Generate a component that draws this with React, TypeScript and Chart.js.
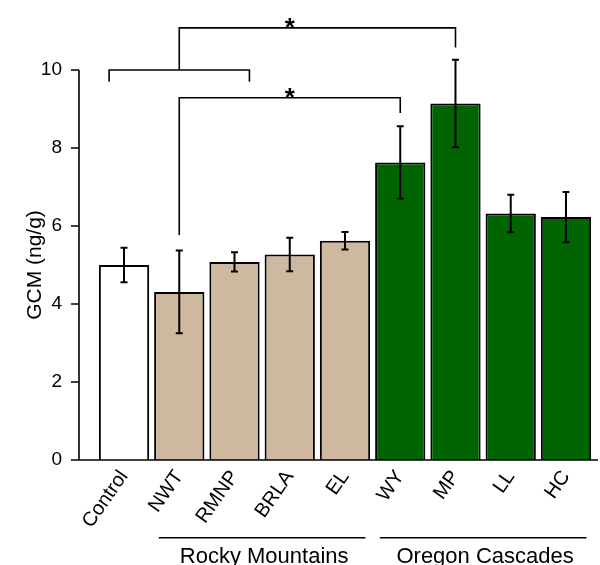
import React, { useEffect, useRef } from "react";
import { Chart, registerables } from "chart.js";

Chart.register(...registerables);

// ---------- data ----------
const categories = ["Control", "NWT", "RMNP", "BRLA", "EL", "WY", "MP", "LL", "HC"];
const means = [5.0, 4.31, 5.08, 5.27, 5.62, 7.63, 9.14, 6.32, 6.23];
const errors = [0.44, 1.06, 0.245, 0.43, 0.225, 0.93, 1.12, 0.48, 0.645];
const yTicks = [0, 2, 4, 6, 8, 10];
const yTitle = "GCM (ng/g)";
const groupNames = ["Rocky Mountains", "Oregon Cascades"];
const groupFirst = [1, 5];
const groupLast = [4, 8];
// comparison brackets (values in data units / category indices)
const pairCenter = 1;
const pairHalfSpan = 1.27;
const pairY = 10.0;
const pairDropY = 9.7;
const sigFrom = [1, 1];
const sigTo = [6, 5];
const sigStartY = [10.0, 5.77];
const sigTopY = [11.08, 9.29];
const sigEndY = [10.58, 8.9];
const starX = [3, 3];
const starY = [11.26, 9.46];

const WHITE = "#ffffff";
const TAN = "#cfb8a0";
const GREEN = "#006400";
const barColors = [WHITE, TAN, TAN, TAN, TAN, GREEN, GREEN, GREEN, GREEN];
const FONT = "'Liberation Sans', Arial, Helvetica, sans-serif";

const overlay = {
  id: "overlay",
  afterDatasetsDraw(chart: any) {
    const { ctx, chartArea, scales } = chart;
    const xs = scales.x;
    const ys = scales.y;
    const meta = chart.getDatasetMeta(0);
    const pitch = xs.getPixelForValue(1) - xs.getPixelForValue(0);
    const px = (v: number) => xs.getPixelForValue(0) + v * pitch;
    ctx.save();
    ctx.strokeStyle = "#000";
    ctx.fillStyle = "#000";
    ctx.lineCap = "butt";

    // error bars
    ctx.lineWidth = 2;
    meta.data.forEach((bar: any, i: number) => {
      const x = bar.x;
      const yTop = ys.getPixelForValue(means[i] + errors[i]);
      const yBot = ys.getPixelForValue(means[i] - errors[i]);
      ctx.beginPath();
      ctx.moveTo(x, yTop);
      ctx.lineTo(x, yBot);
      ctx.moveTo(x - 3.5, yTop);
      ctx.lineTo(x + 3.5, yTop);
      ctx.moveTo(x - 3.5, yBot);
      ctx.lineTo(x + 3.5, yBot);
      ctx.stroke();
    });

    // axes
    const axisX = chartArea.left - 17.4;
    const y0 = ys.getPixelForValue(0);
    ctx.lineWidth = 1.6;
    ctx.beginPath();
    ctx.moveTo(axisX, ys.getPixelForValue(10));
    ctx.lineTo(axisX, y0);
    ctx.moveTo(axisX, y0);
    ctx.lineTo(chart.width - 2, y0);
    yTicks.forEach((t) => {
      const y = ys.getPixelForValue(t);
      ctx.moveTo(axisX - 8, y);
      ctx.lineTo(axisX, y);
    });
    ctx.stroke();

    // pair bracket (Control .. RMNP)
    ctx.lineWidth = 1.6;
    ctx.beginPath();
    ctx.moveTo(px(pairCenter - pairHalfSpan), ys.getPixelForValue(pairDropY));
    ctx.lineTo(px(pairCenter - pairHalfSpan), ys.getPixelForValue(pairY));
    ctx.lineTo(px(pairCenter + pairHalfSpan), ys.getPixelForValue(pairY));
    ctx.lineTo(px(pairCenter + pairHalfSpan), ys.getPixelForValue(pairDropY));
    ctx.stroke();

    // significance brackets
    sigFrom.forEach((f, i) => {
      ctx.beginPath();
      ctx.moveTo(px(f), ys.getPixelForValue(sigStartY[i]));
      ctx.lineTo(px(f), ys.getPixelForValue(sigTopY[i]));
      ctx.lineTo(px(sigTo[i]), ys.getPixelForValue(sigTopY[i]));
      ctx.lineTo(px(sigTo[i]), ys.getPixelForValue(sigEndY[i]));
      ctx.stroke();
    });
    const starSize = 26;
    ctx.font = `bold ${starSize}px ${FONT}`;
    ctx.textAlign = "center";
    ctx.textBaseline = "alphabetic";
    starX.forEach((sx, i) => {
      ctx.fillText("*", px(sx), ys.getPixelForValue(starY[i]) + 0.57 * starSize);
    });

    // group lines and labels
    ctx.lineWidth = 1.6;
    const lineY = chartArea.bottom + 77.7;
    groupNames.forEach((name, i) => {
      const a = px(groupFirst[i]) - pitch * 0.37;
      const b = px(groupLast[i]) + pitch * 0.37;
      ctx.beginPath();
      ctx.moveTo(a, lineY);
      ctx.lineTo(b, lineY);
      ctx.stroke();
      ctx.font = `22px ${FONT}`;
      ctx.textAlign = "center";
      ctx.fillText(name, (a + b) / 2 + 2, lineY + 25);
    });
    ctx.restore();
  },
};

export default function App() {
  const ref = useRef<HTMLCanvasElement>(null);
  useEffect(() => {
    if (!ref.current) return;
    const chart = new Chart(ref.current, {
      type: "bar",
      data: {
        labels: categories,
        datasets: [
          {
            data: means,
            backgroundColor: barColors,
            borderColor: "#000",
            borderWidth: 2,
            barPercentage: 0.91,
            categoryPercentage: 1,
          },
        ],
      },
      options: {
        responsive: false,
        animation: false,
        events: [],
        layout: { padding: { left: 0, right: 6.4, top: 70, bottom: 0 } },
        plugins: { legend: { display: false }, tooltip: { enabled: false } },
        scales: {
          x: {
            grid: { display: false, drawTicks: false },
            border: { display: false },
            ticks: {
              color: "#000",
              font: { family: FONT, size: 20 },
              maxRotation: 55,
              minRotation: 55,
              autoSkip: false,
              padding: 6,
            },
            afterFit: (s: any) => {
              s.height = 105;
            },
          },
          y: {
            min: 0,
            max: 10,
            grid: { display: false, drawTicks: false },
            border: { display: false },
            ticks: {
              stepSize: 2,
              color: "#000",
              font: { family: FONT, size: 19 },
              padding: 34.4,
            },
            title: {
              display: true,
              text: yTitle,
              color: "#000",
              font: { family: FONT, size: 21 },
              padding: { top: 23, bottom: 0 },
            },
            afterFit: (s: any) => {
              s.width = 96.4;
            },
          },
        },
      },
      plugins: [overlay],
    });
    return () => chart.destroy();
  }, []);
  return (
    <div style={{ position: "fixed", left: 0, top: 0, width: 600, height: 565, background: "#fff" }}>
      <canvas ref={ref} width={600} height={565} />
    </div>
  );
}
